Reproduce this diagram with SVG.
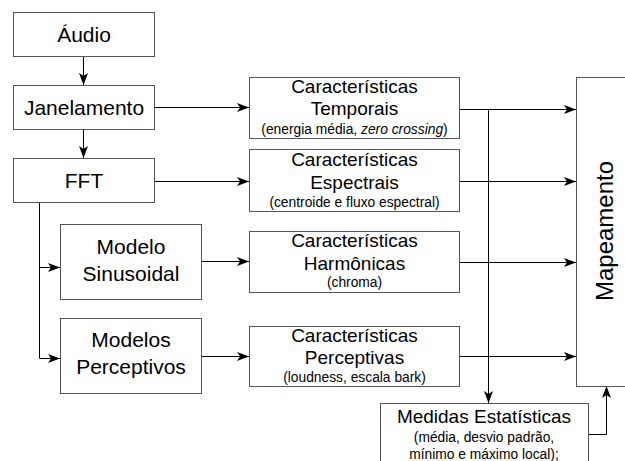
<svg xmlns="http://www.w3.org/2000/svg" width="625" height="461" viewBox="0 0 625 461">
  <style>
    .box { fill: #ffffff; stroke: #555555; stroke-width: 1; }
    .lbl { font-family: "Liberation Sans", Arial, sans-serif; fill: #000000; text-anchor: middle; }
    .big { font-size: 21px; }
    .mid { font-size: 19px; }
    .sml { font-size: 13.8px; }
    .wire { fill: none; stroke: #000000; stroke-width: 1; }
  </style>
  <defs>
    <marker id="arr" markerWidth="13" markerHeight="10" refX="12" refY="4.5" orient="auto" markerUnits="userSpaceOnUse">
      <path d="M0,0 L12,4.5 L0,9 L3,4.5 Z" fill="#000000"/>
    </marker>
  </defs>
  <rect width="625" height="461" fill="#ffffff"/>

  <g id="connectors">
    <path class="wire" d="M83.5,57 V85" marker-end="url(#arr)"/>
    <path class="wire" d="M83.5,130 V158" marker-end="url(#arr)"/>
    <path class="wire" d="M154,107.5 H249" marker-end="url(#arr)"/>
    <path class="wire" d="M154,181.5 H249" marker-end="url(#arr)"/>
    <path class="wire" d="M39.5,203 V267.5 H60" marker-end="url(#arr)"/>
    <path class="wire" d="M39.5,267 V358.5 H60" marker-end="url(#arr)"/>
    <path class="wire" d="M201,261.5 H249" marker-end="url(#arr)"/>
    <path class="wire" d="M201,356.5 H249" marker-end="url(#arr)"/>
    <path class="wire" d="M459,109.5 H576" marker-end="url(#arr)"/>
    <path class="wire" d="M459,181.5 H576" marker-end="url(#arr)"/>
    <path class="wire" d="M459,262.5 H576" marker-end="url(#arr)"/>
    <path class="wire" d="M459,356.5 H576" marker-end="url(#arr)"/>
    <path class="wire" d="M488.5,109.5 V403" marker-end="url(#arr)"/>
    <path class="wire" d="M588,434.5 H606.5 V386" marker-end="url(#arr)"/>
  </g>

  <g id="audio">
    <rect class="box" x="13.5" y="12.5" width="141" height="44"/>
    <text class="lbl big" x="84" y="42">Áudio</text>
  </g>
  <g id="janelamento">
    <rect class="box" x="13.5" y="85.5" width="141" height="44"/>
    <text class="lbl big" x="84" y="115">Janelamento</text>
  </g>
  <g id="fft">
    <rect class="box" x="13.5" y="158.5" width="141" height="44"/>
    <text class="lbl big" x="84" y="188">FFT</text>
  </g>
  <g id="modelo-sinusoidal">
    <rect class="box" x="60.5" y="224.5" width="141" height="75"/>
    <text class="lbl big" x="131" y="254">Modelo</text>
    <text class="lbl big" x="131" y="281">Sinusoidal</text>
  </g>
  <g id="modelos-perceptivos">
    <rect class="box" x="60.5" y="318.5" width="141" height="75"/>
    <text class="lbl big" x="131" y="347">Modelos</text>
    <text class="lbl big" x="131" y="374">Perceptivos</text>
  </g>

  <g id="car-temporais">
    <rect class="box" x="249.5" y="77.5" width="210" height="61"/>
    <text class="lbl mid" x="354.5" y="93">Características</text>
    <text class="lbl mid" x="354.5" y="115">Temporais</text>
    <text class="lbl sml" x="354.5" y="134">(energia média, <tspan font-style="italic">zero crossing</tspan>)</text>
  </g>
  <g id="car-espectrais">
    <rect class="box" x="249.5" y="149.5" width="210" height="62"/>
    <text class="lbl mid" x="354.5" y="166">Características</text>
    <text class="lbl mid" x="354.5" y="189">Espectrais</text>
    <text class="lbl sml" x="354.5" y="207">(centroide e fluxo espectral)</text>
  </g>
  <g id="car-harmonicas">
    <rect class="box" x="249.5" y="231.5" width="210" height="61"/>
    <text class="lbl mid" x="354.5" y="247">Características</text>
    <text class="lbl mid" x="354.5" y="270">Harmônicas</text>
    <text class="lbl sml" x="354.5" y="287">(chroma)</text>
  </g>
  <g id="car-perceptivas">
    <rect class="box" x="249.5" y="326.5" width="210" height="60"/>
    <text class="lbl mid" x="354.5" y="342">Características</text>
    <text class="lbl mid" x="354.5" y="364">Perceptivas</text>
    <text class="lbl sml" x="354.5" y="382">(loudness, escala bark)</text>
  </g>

  <g id="mapeamento">
    <rect class="box" x="576.5" y="77.5" width="60" height="309"/>
    <text class="lbl" font-size="24" transform="translate(613,231) rotate(-90)">Mapeamento</text>
  </g>

  <g id="medidas">
    <rect class="box" x="380.5" y="403.5" width="208" height="70"/>
    <text class="lbl mid" x="484" y="423">Medidas Estatísticas</text>
    <text class="lbl sml" x="484" y="442">(média, desvio padrão,</text>
    <text class="lbl sml" x="484" y="459">mínimo e máximo local);</text>
  </g>
</svg>
